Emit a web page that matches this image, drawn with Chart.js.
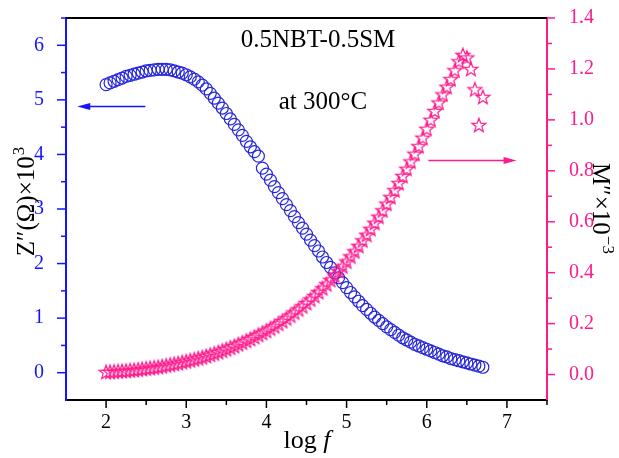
<!DOCTYPE html>
<html>
<head>
<meta charset="utf-8">
<script src="https://cdn.jsdelivr.net/npm/chart.js@4.4.1/dist/chart.umd.min.js"></script>
<style>
  html, body { margin: 0; padding: 0; background: #fff; }
  #wrap { width: 619px; height: 458px; }
</style>
</head>
<body>
<div id="wrap"><canvas id="chart" width="619" height="458"></canvas></div>
<script>
// log f (Hz) shared by both series
const logF = [
  2.00, 2.05, 2.10, 2.15, 2.20, 2.25, 2.30, 2.35, 2.40, 2.45,
  2.50, 2.55, 2.60, 2.65, 2.70, 2.75, 2.80, 2.85, 2.90, 2.95,
  3.00, 3.05, 3.10, 3.15, 3.20, 3.25, 3.30, 3.35, 3.40, 3.45,
  3.50, 3.55, 3.60, 3.65, 3.70, 3.75, 3.80, 3.85, 3.90, 3.95,
  4.00, 4.05, 4.10, 4.15, 4.20, 4.25, 4.30, 4.35, 4.40, 4.45,
  4.50, 4.55, 4.60, 4.65, 4.70, 4.75, 4.80, 4.85, 4.90, 4.95,
  5.00, 5.05, 5.10, 5.15, 5.20, 5.25, 5.30, 5.35, 5.40, 5.45,
  5.50, 5.55, 5.60, 5.65, 5.70, 5.75, 5.80, 5.85, 5.90, 5.95,
  6.00, 6.05, 6.10, 6.15, 6.20, 6.25, 6.30, 6.35, 6.40, 6.45,
  6.50, 6.55, 6.60, 6.65, 6.70
];

// Z'' x 10^3 (ohm), left axis
const zImag = [
  5.28, 5.31, 5.34, 5.37, 5.40, 5.43, 5.45, 5.47, 5.49, 5.51,
  5.53, 5.54, 5.55, 5.56, 5.56, 5.56, 5.55, 5.53, 5.51, 5.49,
  5.46, 5.42, 5.38, 5.33, 5.27, 5.20, 5.12, 5.03, 4.94, 4.85,
  4.75, 4.65, 4.55, 4.45, 4.35, 4.24, 4.14, 4.05, 3.97, 3.75,
  3.64, 3.53, 3.41, 3.30, 3.19, 3.08, 2.97, 2.86, 2.75, 2.65,
  2.54, 2.43, 2.33, 2.23, 2.12, 2.02, 1.93, 1.83, 1.74, 1.65,
  1.56, 1.47, 1.39, 1.31, 1.23, 1.16, 1.09, 1.02, 0.96, 0.90,
  0.84, 0.79, 0.74, 0.69, 0.64, 0.60, 0.56, 0.52, 0.49, 0.46,
  0.43, 0.40, 0.37, 0.34, 0.31, 0.29, 0.26, 0.24, 0.22, 0.20,
  0.18, 0.16, 0.14, 0.12, 0.10
];

// M'' x 10^-3, right axis
const mImag = [
  0.010, 0.011, 0.012, 0.013, 0.014, 0.015, 0.017, 0.018, 0.020, 0.022,
  0.024, 0.026, 0.028, 0.030, 0.033, 0.036, 0.039, 0.042, 0.045, 0.049,
  0.052, 0.056, 0.060, 0.064, 0.068, 0.073, 0.078, 0.083, 0.088, 0.094,
  0.100, 0.106, 0.112, 0.119, 0.126, 0.133, 0.140, 0.148, 0.156, 0.164,
  0.172, 0.181, 0.190, 0.200, 0.210, 0.221, 0.232, 0.244, 0.256, 0.268,
  0.281, 0.295, 0.309, 0.324, 0.339, 0.355, 0.372, 0.389, 0.407, 0.425,
  0.444, 0.464, 0.484, 0.505, 0.527, 0.549, 0.572, 0.596, 0.620, 0.645,
  0.671, 0.697, 0.724, 0.752, 0.780, 0.808, 0.837, 0.867, 0.897, 0.930,
  0.965, 1.000, 1.035, 1.068, 1.100, 1.130, 1.160, 1.195, 1.230, 1.255,
  1.245, 1.200, 1.120, 0.980, 1.090
];

const BLUE = '#2626d8';
const AXIS_BLUE = '#1414ff';
const PINK = '#ff1a8c';
const FONT = '"Liberation Serif", "Times New Roman", serif';

function starImage(color) {
  const c = document.createElement('canvas');
  c.width = 18; c.height = 18;
  const g = c.getContext('2d');
  g.strokeStyle = color;
  g.lineWidth = 1.2;
  g.beginPath();
  for (let i = 0; i < 10; i++) {
    const r = i % 2 === 0 ? 7.4 : 3.1;
    const a = -Math.PI / 2 + i * Math.PI / 5;
    const px = 9 + r * Math.cos(a), py = 9.6 + r * Math.sin(a);
    if (i === 0) g.moveTo(px, py); else g.lineTo(px, py);
  }
  g.closePath();
  g.stroke();
  return c;
}

function arrow(ctx, x1, x2, y, color) {
  ctx.save();
  ctx.strokeStyle = color;
  ctx.fillStyle = color;
  ctx.lineWidth = 1.5;
  const dir = Math.sign(x2 - x1);
  ctx.beginPath();
  ctx.moveTo(x1, y);
  ctx.lineTo(x2 - dir * 10, y);
  ctx.stroke();
  ctx.beginPath();
  ctx.moveTo(x2, y);
  ctx.lineTo(x2 - dir * 13, y - 3.5);
  ctx.lineTo(x2 - dir * 13, y + 3.5);
  ctx.closePath();
  ctx.fill();
  ctx.restore();
}

// keep the plot box fixed: drop the extra room Chart.js reserves for end labels
function noPad(s) {
  s.paddingTop = 0; s.paddingBottom = 0;
  s.paddingLeft = 0; s.paddingRight = 0;
}

const decor = {
  id: 'decor',
  afterDraw(chart) {
    const ctx = chart.ctx;
    const area = chart.chartArea;
    const sx = chart.scales.x, sy = chart.scales.y, sy2 = chart.scales.y2;

    // top frame
    ctx.save();
    ctx.strokeStyle = '#000';
    ctx.lineWidth = 2;
    ctx.beginPath();
    ctx.moveTo(area.left, area.top);
    ctx.lineTo(area.right, area.top);
    ctx.stroke();

    // tick marks
    ctx.lineWidth = 1.5;
    sx.ticks.forEach(t => {
      if (t.value <= sx.min) return;
      const len = Number.isInteger(t.value) ? 8 : 5;
      const px = sx.getPixelForValue(t.value);
      ctx.strokeStyle = '#000';
      ctx.beginPath(); ctx.moveTo(px, area.bottom); ctx.lineTo(px, area.bottom + len); ctx.stroke();
    });
    sy.ticks.forEach(t => {
      if (t.value <= sy.min) return;
      const len = Number.isInteger(t.value) ? 9 : 5;
      const py = sy.getPixelForValue(t.value);
      ctx.strokeStyle = AXIS_BLUE;
      ctx.beginPath(); ctx.moveTo(area.left, py); ctx.lineTo(area.left - len, py); ctx.stroke();
    });
    sy2.ticks.forEach(t => {
      if (t.value <= sy2.min + 1e-9) return;
      const len = Math.round(t.value * 10) % 2 === 0 ? 8 : 5;
      const py = sy2.getPixelForValue(t.value);
      ctx.strokeStyle = PINK;
      ctx.beginPath(); ctx.moveTo(area.right, py); ctx.lineTo(area.right + len, py); ctx.stroke();
    });

    // arrows
    arrow(ctx, sx.getPixelForValue(2.49), sx.getPixelForValue(1.64), sy.getPixelForValue(4.88), AXIS_BLUE);
    arrow(ctx, sx.getPixelForValue(6.02), sx.getPixelForValue(7.12), sy2.getPixelForValue(0.84), PINK);

    // annotations
    ctx.fillStyle = '#000';
    ctx.textAlign = 'center';
    ctx.textBaseline = 'alphabetic';
    ctx.font = '25px ' + FONT;
    ctx.fillText('0.5NBT-0.5SM', 318, 47);
    ctx.fillText('at 300°C', 323, 109);

    // bottom title: log f
    ctx.textAlign = 'left';
    ctx.font = '26px ' + FONT;
    const w1 = ctx.measureText('log ').width;
    ctx.font = 'italic 26px ' + FONT;
    const w2 = ctx.measureText('f').width;
    const bx = 307 - (w1 + w2) / 2;
    ctx.font = '26px ' + FONT;
    ctx.fillText('log ', bx, 448);
    ctx.font = 'italic 26px ' + FONT;
    ctx.fillText('f', bx + w1, 448);

    // left title: Z''(Ω)×10^3
    ctx.save();
    ctx.translate(34, 202);
    ctx.rotate(-Math.PI / 2);
    ctx.font = '25px ' + FONT;
    const lMain = 'Z\u2033(\u03A9)\u00D710';
    const lw = ctx.measureText(lMain).width;
    ctx.font = '17px ' + FONT;
    const lsw = ctx.measureText('3').width;
    const lx = -(lw + lsw) / 2;
    ctx.font = '25px ' + FONT;
    ctx.fillText(lMain, lx, 0);
    ctx.font = '17px ' + FONT;
    ctx.fillText('3', lx + lw + 1, -10);
    ctx.restore();

    // right title: M''×10^-3
    ctx.save();
    ctx.translate(593, 208);
    ctx.rotate(Math.PI / 2);
    ctx.font = '25px ' + FONT;
    const rMain = 'M\u2033\u00D710';
    const rw = ctx.measureText(rMain).width;
    ctx.font = '17px ' + FONT;
    const rsw = ctx.measureText('\u22123').width;
    const rx = -(rw + rsw) / 2;
    ctx.font = '25px ' + FONT;
    ctx.fillText(rMain, rx, 0);
    ctx.font = '17px ' + FONT;
    ctx.fillText('\u22123', rx + rw + 1, -10);
    ctx.restore();

    ctx.restore();
  }
};

const zPoints = logF.map((x, i) => ({ x: x, y: zImag[i] }));
const mPoints = logF.map((x, i) => ({ x: x, y: mImag[i] }));

new Chart(document.getElementById('chart').getContext('2d'), {
  type: 'scatter',
  data: {
    datasets: [{
      label: "M''",
      data: mPoints,
      yAxisID: 'y2',
      order: 1,
      pointStyle: starImage(PINK),
      pointRadius: 8,
      showLine: false
    }, {
      label: "Z''",
      data: zPoints,
      yAxisID: 'y',
      order: 2,
      pointStyle: 'circle',
      pointRadius: 6,
      borderWidth: 1.2,
      borderColor: BLUE,
      backgroundColor: 'rgba(0,0,0,0)',
      showLine: false
    }]
  },
  options: {
    responsive: false,
    animation: false,
    devicePixelRatio: 1,
    layout: { padding: { top: 18, left: 0, right: 0, bottom: 0 } },
    plugins: { legend: { display: false }, tooltip: { enabled: false } },
    scales: {
      x: {
        type: 'linear',
        position: 'bottom',
        min: 1.5,
        max: 7.5,
        grid: { display: false },
        border: { color: '#000', width: 2 },
        ticks: {
          stepSize: 0.5,
          autoSkip: false,
          maxRotation: 0,
          padding: 3,
          color: '#000',
          font: { family: FONT, size: 20 },
          callback: v => Number.isInteger(v) ? String(v) : ''
        },
        afterFit: s => { s.height = 58; noPad(s); }
      },
      y: {
        type: 'linear',
        position: 'left',
        min: -0.5,
        max: 6.5,
        grid: { display: false },
        border: { color: AXIS_BLUE, width: 2 },
        ticks: {
          stepSize: 0.5,
          autoSkip: false,
          padding: 14,
          color: AXIS_BLUE,
          font: { family: FONT, size: 20 },
          callback: v => Number.isInteger(v) ? String(v) : ''
        },
        afterFit: s => { s.width = 66; noPad(s); }
      },
      y2: {
        type: 'linear',
        position: 'right',
        min: -0.1,
        max: 1.4,
        grid: { display: false },
        border: { color: PINK, width: 2 },
        ticks: {
          stepSize: 0.1,
          autoSkip: false,
          padding: 14,
          color: PINK,
          font: { family: FONT, size: 20 },
          callback: v => {
            const k = Math.round(v * 10);
            return (k >= 0 && k % 2 === 0) ? (k / 10).toFixed(1) : '';
          }
        },
        afterFit: s => { s.width = 72; noPad(s); }
      }
    }
  },
  plugins: [decor]
});
</script>
</body>
</html>
